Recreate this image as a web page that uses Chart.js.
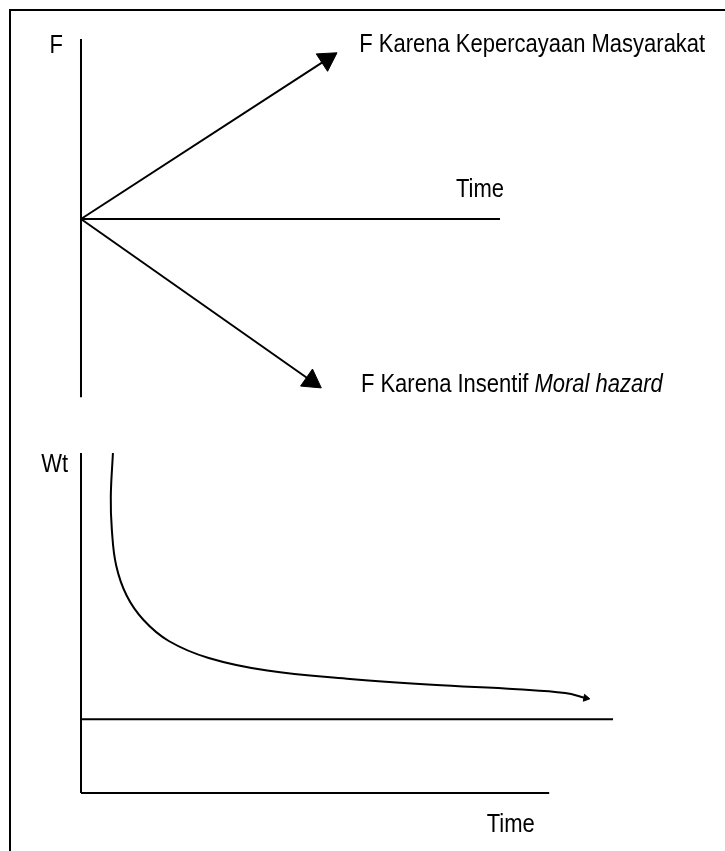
<!DOCTYPE html>
<html>
<head>
<meta charset="utf-8">
<script src="https://cdn.jsdelivr.net/npm/chart.js@4/dist/chart.umd.min.js"></script>
<style>
    body { margin: 0; background: #fff; width: 725px; height: 851px; overflow: hidden; position: relative; }
    #frame { position: absolute; left: 9px; top: 9px; width: 800px; height: 900px; border-left: 2px solid #000; border-top: 2px solid #000; }
    canvas { position: absolute; left: 0; }
    #top-chart { top: 0; }
    #bottom-chart { top: 420px; }
</style>
</head>
<body>
<div id="frame"></div>
<canvas id="top-chart" width="725" height="420"></canvas>
<canvas id="bottom-chart" width="725" height="431"></canvas>
<script>
// top panel: F against time
const fAxisTime = [0, 0];
const fAxisValue = [1.0, -0.99];
const timeLineTime = [0, 10];
const timeLineValue = [0, 0];
const trustTime = [0, 5.87];
const trustValue = [0, 0.887];
const hazardTime = [0, 5.50];
const hazardValue = [0, -0.90];

// bottom panel: Wt against time
const wtAxisTime = [0, 0];
const wtAxisValue = [10.0, 0];
const baseTime = [0, 8.8];
const baseValue = [0, 0];
const floorTime = [0, 10];
const floorValue = [2.17, 2.17];
const curveTime = [0.60, 0.56, 0.58, 0.66, 0.86, 1.18, 1.65, 2.40, 3.50, 5.00, 6.60, 8.20, 9.10, 9.49];
const curveValue = [10.0, 8.71, 7.74, 6.70, 5.80, 5.08, 4.47, 3.97, 3.60, 3.36, 3.18, 3.05, 2.94, 2.79];

const font = '"Liberation Sans", Arial, sans-serif';
const textSize = 26.5;
const narrow = 0.83;

function points(xs, ys) {
    return xs.map((x, i) => ({ x: x, y: ys[i] }));
}

function lineSet(xs, ys, extra) {
    return Object.assign({
        data: points(xs, ys),
        showLine: true,
        borderColor: '#000',
        backgroundColor: '#000',
        borderWidth: 2,
        pointRadius: 0,
        tension: 0
    }, extra || {});
}

function arrowSet(xs, ys, rotation, size, tension) {
    return lineSet(xs, ys, {
        pointStyle: 'triangle',
        pointRadius: xs.map((x, i) => i === xs.length - 1 ? size : 0),
        pointRotation: xs.map((x, i) => i === xs.length - 1 ? rotation : 0),
        pointBorderWidth: 1,
        tension: tension || 0
    });
}

// draws the text labels at data positions, squeezed like a narrow face
const labelPlugin = {
    id: 'labels',
    afterDatasetsDraw(chart, args, opts) {
        const ctx = chart.ctx;
        const sx = chart.scales.x, sy = chart.scales.y;
        opts.items.forEach(item => {
            const px = sx.getPixelForValue(item.x);
            const py = sy.getPixelForValue(item.y);
            ctx.save();
            ctx.fillStyle = '#000';
            ctx.textBaseline = 'alphabetic';
            ctx.font = textSize + 'px ' + font;
            let w = ctx.measureText(item.text).width;
            if (item.italic) {
                ctx.font = 'italic ' + textSize + 'px ' + font;
                w += ctx.measureText(item.italic).width;
            }
            ctx.translate(px, py);
            ctx.scale(narrow, 1);
            let start = item.align === 'right' ? -w : 0;
            ctx.textAlign = 'left';
            ctx.font = textSize + 'px ' + font;
            ctx.fillText(item.text, start, 0);
            if (item.italic) {
                start += ctx.measureText(item.text).width;
                ctx.font = 'italic ' + textSize + 'px ' + font;
                ctx.fillText(item.italic, start, 0);
            }
            ctx.restore();
        });
    }
};

function makeChart(id, datasets, xRange, yRange, labels) {
    return new Chart(document.getElementById(id), {
        type: 'scatter',
        data: { datasets: datasets },
        options: {
            responsive: false,
            animation: false,
            layout: { padding: 0, autoPadding: false },
            scales: {
                x: { type: 'linear', min: xRange[0], max: xRange[1], display: false },
                y: { type: 'linear', min: yRange[0], max: yRange[1], display: false }
            },
            plugins: {
                legend: { display: false },
                tooltip: { enabled: false },
                labels: { items: labels }
            }
        },
        plugins: [labelPlugin]
    });
}

makeChart('top-chart', [
    lineSet(fAxisTime, fAxisValue),
    lineSet(timeLineTime, timeLineValue),
    arrowSet(trustTime, trustValue, 57, 12),
    arrowSet(hazardTime, hazardValue, 125, 12)
], [-1.933, 15.37], [-1.1167, 1.2167], [
    { text: 'F', x: -0.43, y: 0.922, align: 'right' },
    { text: 'F Karena Kepercayaan Masyarakat', x: 6.64, y: 0.928 },
    { text: 'Time', x: 8.95, y: 0.122 },
    { text: 'F Karena Insentif ', italic: 'Moral hazard', x: 6.68, y: -0.961 }
]);

makeChart('bottom-chart', [
    lineSet(wtAxisTime, wtAxisValue),
    lineSet(baseTime, baseValue),
    lineSet(floorTime, floorValue),
    arrowSet(curveTime, curveValue, 100, 4, 0.4)
], [-1.5226, 12.105], [-1.706, 10.97], [
    { text: 'Wt', x: -0.244, y: 9.44, align: 'right' },
    { text: 'Time', x: 8.53, y: -1.147, align: 'right' }
]);
</script>
</body>
</html>
